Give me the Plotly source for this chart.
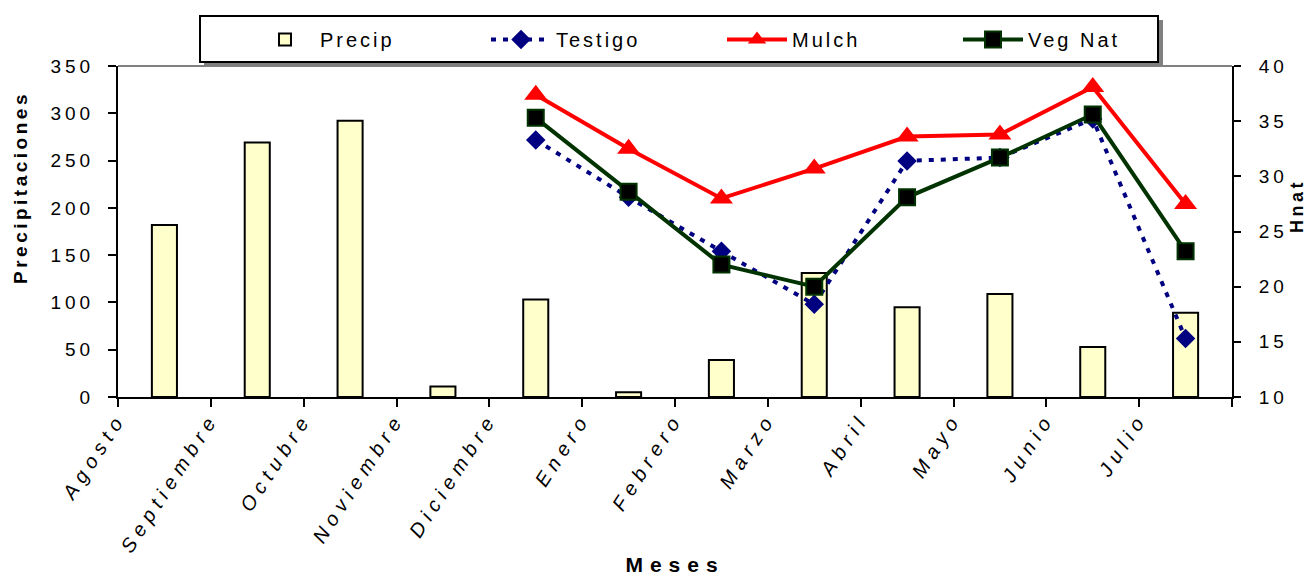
import plotly.graph_objects as go

# ---------------- data ----------------
meses = ["Agosto", "Septiembre", "Octubre", "Noviembre", "Diciembre", "Enero",
         "Febrero", "Marzo", "Abril", "Mayo", "Junio", "Julio"]
precip = [182, 269, 292, 11, 103, 5, 39, 131, 95, 109, 53, 89]

meses_hnat = ["Diciembre", "Enero", "Febrero", "Marzo", "Abril", "Mayo", "Junio", "Julio"]
testigo = [33.3, 28.1, 23.2, 18.4, 31.4, 31.7, 35.2, 15.3]
mulch = [37.4, 32.5, 28.0, 30.7, 33.6, 33.8, 38.1, 27.5]
veg_nat = [35.3, 28.6, 22.0, 20.0, 28.1, 31.7, 35.6, 23.2]

precip_ticks = [0, 50, 100, 150, 200, 250, 300, 350]
hnat_ticks = [10, 15, 20, 25, 30, 35, 40]

FONT = "Liberation Sans, Arial, sans-serif"


def sp(text, ls, extra=""):
    return f'<span style="letter-spacing:{ls}px;{extra}">{text}</span>'


W, H = 1308, 576
ML, MR, MT, MB = 118, 76, 66, 179
PW, PH = W - ML - MR, H - MT - MB


def px_x(x):
    return (x - ML) / PW


def px_y(y):
    return (H - MB - y) / PH


fig = go.Figure()

fig.add_trace(go.Bar(
    x=meses, y=precip, name=sp("Precip", 3),
    marker=dict(color="#FFFFCC", line=dict(color="black", width=2)),
    yaxis="y", xaxis="x",
))
fig.add_trace(go.Scatter(
    x=meses_hnat, y=testigo, name=sp("Testigo", 3), yaxis="y2", xaxis="x",
    mode="lines+markers",
    line=dict(color="#000080", width=4, dash="5px,7px"),
    marker=dict(symbol="diamond", size=15, color="#000080"),
))
fig.add_trace(go.Scatter(
    x=meses_hnat, y=mulch, name=sp("Mulch", 3), yaxis="y2", xaxis="x",
    mode="lines+markers",
    line=dict(color="#FF0000", width=4),
    marker=dict(symbol="triangle-up", size=20, color="#FF0000"),
))
fig.add_trace(go.Scatter(
    x=meses_hnat, y=veg_nat, name=sp("Veg Nat", 3), yaxis="y2", xaxis="x",
    mode="lines+markers",
    line=dict(color="#003300", width=4),
    marker=dict(symbol="square", size=16, color="black",
                line=dict(color="#003300", width=2)),
))

tickfont = dict(family=FONT, size=19, color="black")

fig.update_layout(
    width=W, height=H,
    margin=dict(l=ML, r=MR, t=MT, b=MB, autoexpand=False),
    paper_bgcolor="white", plot_bgcolor="white",
    bargap=0.73,
    showlegend=True,
    font=dict(family=FONT, color="black"),
    xaxis=dict(
        type="category", categoryorder="array", categoryarray=meses,
        range=[-0.5, 11.5],
        tickson="boundaries", ticks="outside", ticklen=8, tickwidth=2, tickcolor="black",
        showline=True, linecolor="black", linewidth=2,
        showgrid=False, zeroline=False,
        tickmode="array", tickvals=meses,
        ticktext=[f"<i>{sp(m, 6, 'font-style:italic')}</i>" for m in meses],
        tickangle=-57,
        tickfont=dict(family=FONT, size=20, color="black", style="italic"),
        ticklabelshift=-46,
        title=dict(text=sp("<b>Meses</b>", 7), font=dict(family=FONT, size=21), standoff=8),
    ),
    xaxis3=dict(
        overlaying="x", anchor="y", range=[-0.5, 11.5], type="linear",
        tickmode="array", tickvals=[i - 0.5 for i in range(len(meses) + 1)],
        ticks="inside", ticklen=5, tickwidth=2, tickcolor="black",
        showticklabels=False, showline=False, showgrid=False, zeroline=False,
    ),
    yaxis=dict(
        range=[0, 350], tickmode="array", tickvals=precip_ticks,
        ticktext=[sp(str(v), 4) for v in precip_ticks],
        ticks="outside", ticklen=8, tickwidth=2, tickcolor="black",
        showline=True, linecolor="black", linewidth=2,
        showgrid=False, zeroline=False, tickfont=tickfont,
        ticklabelstandoff=10,
    ),
    yaxis3=dict(
        overlaying="y", anchor="x", side="left", range=[0, 350],
        tickmode="array", tickvals=precip_ticks,
        ticks="inside", ticklen=7, tickwidth=2, tickcolor="black",
        showticklabels=False, showline=False, showgrid=False, zeroline=False,
    ),
    yaxis2=dict(
        overlaying="y", side="right", anchor="x", range=[10, 40],
        tickmode="array", tickvals=hnat_ticks,
        ticktext=[sp(str(v), 4) for v in hnat_ticks],
        ticks="outside", ticklen=7, tickwidth=2, tickcolor="black",
        showline=True, linecolor="black", linewidth=2,
        showgrid=False, zeroline=False, tickfont=tickfont,
        ticklabelstandoff=14,
    ),
    yaxis4=dict(
        overlaying="y", side="right", anchor="x", range=[10, 40],
        tickmode="array", tickvals=hnat_ticks,
        ticks="inside", ticklen=9, tickwidth=2, tickcolor="black",
        showticklabels=False, showline=False, showgrid=False, zeroline=False,
    ),
    legend=dict(
        orientation="h", x=px_x(250), xanchor="left", y=px_y(20), yanchor="top",
        bgcolor="rgba(0,0,0,0)", borderwidth=0,
        entrywidth=161, entrywidthmode="pixels", itemwidth=60,
        font=dict(family=FONT, size=20, color="black"),
        traceorder="normal",
    ),
    annotations=[
        dict(text=sp("<b>Precipitaciones</b>", 3.5), textangle=-90,
             x=px_x(20), y=px_y(188), xref="paper", yref="paper",
             showarrow=False, font=dict(family=FONT, size=19, color="black"),
             xanchor="center", yanchor="middle"),
        dict(text=sp("<b>Hnat</b>", 3.5), textangle=-90,
             x=px_x(1297), y=px_y(206), xref="paper", yref="paper",
             showarrow=False, font=dict(family=FONT, size=18, color="black"),
             xanchor="center", yanchor="middle"),
    ],
    shapes=[
        # legend shadow and frame
        dict(type="rect", xref="paper", yref="paper",
             x0=px_x(204), x1=px_x(1163), y0=px_y(66), y1=px_y(20),
             fillcolor="#808080", line=dict(width=0), layer="above"),
        dict(type="rect", xref="paper", yref="paper",
             x0=px_x(200), x1=px_x(1158), y0=px_y(62), y1=px_y(16),
             fillcolor="white", line=dict(color="black", width=2), layer="above"),
        # light top border of plot area
        dict(type="line", xref="paper", yref="paper", x0=0, x1=1, y0=1, y1=1,
             line=dict(color="#808080", width=2), layer="above"),
    ],
)

fig.write_html("out.html", config={"displayModeBar": False},
               post_script="document.body.style.margin='0px';")
